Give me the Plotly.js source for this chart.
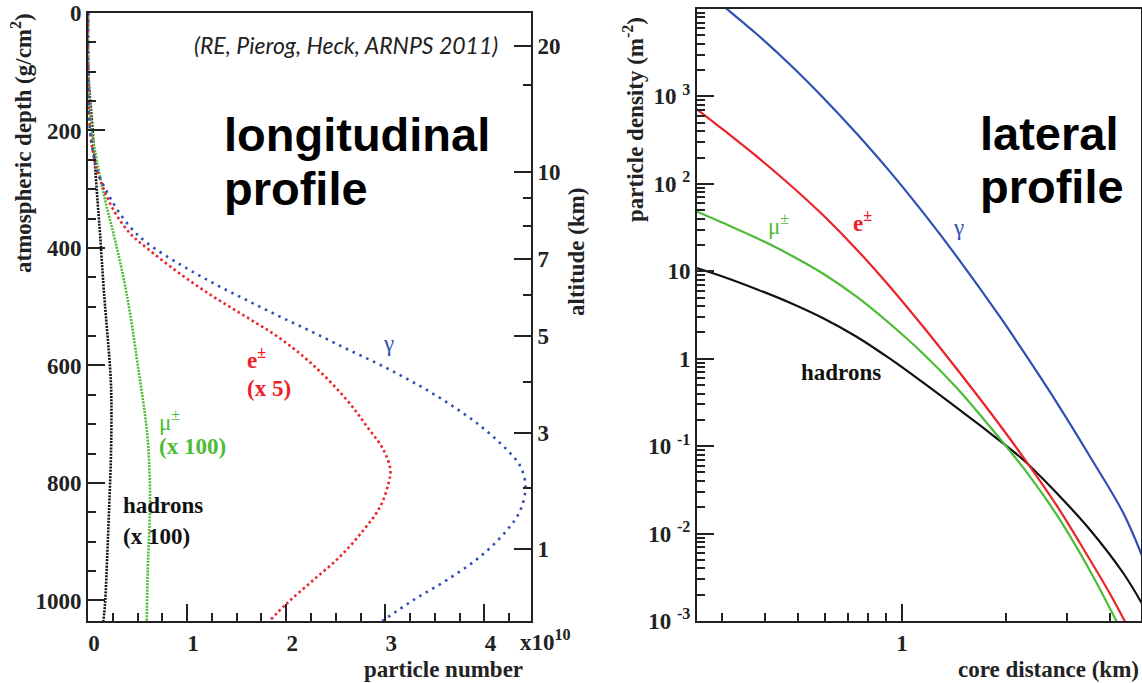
<!DOCTYPE html>
<html>
<head>
<meta charset="utf-8">
<script src="https://cdn.plot.ly/plotly-3.0.1.min.js"></script>
<style>html,body{margin:0;padding:0;background:#fff;}#chart{width:1142px;height:683px;}</style>
</head>
<body>
<div id="chart"></div>
<script>
// ---------- Longitudinal profile (particle number in units of 1e10, depth in g/cm^2) ----------
const gammaDepth = [0, 100, 200, 245, 273, 324, 364, 391, 428, 460, 489, 517, 544, 572, 599, 629, 663, 703, 744, 772, 806, 846, 880, 925, 965, 999, 1035];
const gammaN     = [0, 0.002, 0.02, 0.06, 0.104, 0.256, 0.424, 0.593, 0.929, 1.266, 1.603, 1.939, 2.276, 2.613, 2.949, 3.286, 3.623, 3.96, 4.229, 4.364, 4.414, 4.364, 4.229, 3.96, 3.623, 3.286, 2.97];
const electronDepth = [0, 100, 200, 245, 273, 335, 375, 400, 444, 483, 518, 554, 600, 659, 704, 744, 778, 800, 840, 880, 925, 965, 1005, 1035];
const electronN     = [0, 0.002, 0.02, 0.06, 0.1, 0.256, 0.424, 0.593, 0.929, 1.266, 1.603, 1.939, 2.276, 2.613, 2.815, 2.983, 3.051, 3.033, 2.949, 2.781, 2.545, 2.276, 2.007, 1.83];
const muonDepth = [0, 100, 200, 250, 318, 375, 440, 511, 608, 664, 721, 778, 835, 891, 948, 1035];
const muonN     = [0, 0.003, 0.037, 0.088, 0.172, 0.256, 0.345, 0.424, 0.51, 0.559, 0.6, 0.62, 0.626, 0.616, 0.603, 0.593];
const hadronDepth = [0, 100, 200, 301, 375, 477, 613, 664, 750, 835, 920, 1005, 1035];
const hadronN     = [0, 0.003, 0.047, 0.088, 0.121, 0.162, 0.226, 0.236, 0.232, 0.215, 0.195, 0.172, 0.155];

// altitude axis: depth (g/cm^2) at given altitudes (km)
const altMajorDepth = [56, 271, 419, 550, 715, 913];
const altMajorText  = ['20', '10', '7', '5', '3', '1'];
const altMinorDepth = [123, 315, 362, 480, 628, 808];

const depthTicks = [0, 200, 400, 600, 800, 1000];
const numberTicks = [0, 1, 2, 3, 4];

// ---------- Lateral profile (core distance km, density m^-2) ----------
const gammaR   = [0.300, 0.3126, 0.3793, 0.4735, 0.5913, 0.739, 0.923, 1.1527, 1.4405, 1.9454, 2.2467, 2.8081, 3.5075, 4.3787, 4.953];
const gammaRho = [11200, 9820, 5176, 2323, 968, 376.7, 138, 46.8, 14.8, 2.83, 1.218, 0.3164, 0.0761, 0.01732, 0.00573];
const elecR    = [0.2541, 0.3034, 0.3793, 0.4735, 0.5913, 0.739, 0.923, 1.1527, 1.4405, 1.800, 2.2467, 2.8081, 3.5075, 4.009, 4.43];
const elecRho  = [718, 416, 206, 97.8, 43.7, 17.8, 6.66, 2.32, 0.768, 0.2457, 0.0751, 0.0210, 0.00502, 0.00205, 0.000989];
const muonR    = [0.2541, 0.3034, 0.3793, 0.4735, 0.5913, 0.739, 0.923, 1.1527, 1.4405, 1.800, 2.2467, 2.8081, 3.5075, 4.191];
const muonRho  = [48.4, 35.7, 24.0, 15.47, 9.38, 5.12, 2.51, 1.141, 0.466, 0.1668, 0.0567, 0.01643, 0.00376, 0.000989];
const hadR     = [0.2541, 0.3034, 0.3793, 0.4735, 0.5913, 0.739, 0.923, 1.1527, 1.4405, 1.800, 2.2467, 2.8081, 3.5075, 4.3787, 4.953];
const hadRho   = [10.9, 8.67, 6.24, 4.37, 2.905, 1.785, 1.0, 0.5315, 0.2752, 0.1413, 0.0699, 0.0291, 0.01107, 0.00354, 0.001606];

const densTicks = [0.001, 0.01, 0.1, 1, 10, 100, 1000];
const densText  = ['10 <sup>-3</sup>', '10 <sup>-2</sup>', '10 <sup>-1</sup>', '1', '10', '10 <sup>2</sup>', '10 <sup>3</sup>'];
const distTicks = [1];
const distText  = ['1'];
const distMinor = [0.3, 0.4, 0.5, 0.6, 0.7, 0.8, 0.9, 2, 3, 4];
const densMinor = [];
[0.001, 0.01, 0.1, 1, 10, 100, 1000].forEach(d => { for (let k = 2; k <= 9; k++) densMinor.push(d * k); });

// ---------- styling ----------
const BLUE = '#2f4fb5', RED = '#ec2227', GREEN = '#4cbb35', BLACK = '#111111';
const W = 1142, H = 683;
const px = x => x / W, py = y => 1 - y / H;
const FS = 23;
const serifB = {family: 'Liberation Serif, serif', size: FS, color: '#222', weight: 'bold'};

function dotted(x, y, color, dash) {
  return {x, y, type: 'scatter', mode: 'lines', xaxis: 'x', yaxis: 'y',
    line: {color, width: 2.6, dash, shape: 'spline', smoothing: 1}, hoverinfo: 'skip', showlegend: false};
}
function solid(x, y, color) {
  return {x, y, type: 'scatter', mode: 'lines', xaxis: 'x3', yaxis: 'y3',
    line: {color, width: 2.2, shape: 'spline', smoothing: 1}, hoverinfo: 'skip', showlegend: false};
}

const traces = [
  dotted(hadronN, hadronDepth, BLACK, '2px,1.2px'),
  dotted(muonN, muonDepth, GREEN, '2px,1.2px'),
  dotted(electronN, electronDepth, RED, '2.5px,3px'),
  dotted(gammaN, gammaDepth, BLUE, '2.5px,5px'),
  solid(hadR, hadRho, BLACK),
  solid(muonR, muonRho, GREEN),
  solid(elecR, elecRho, RED),
  solid(gammaR, gammaRho, BLUE),
  {x: [null], y: [null], xaxis: 'x', yaxis: 'y2', type: 'scatter', mode: 'lines', showlegend: false, hoverinfo: 'skip'}
];

const lineStyle = {showline: true, linecolor: '#222', linewidth: 2, showgrid: false, zeroline: false, ticks: 'inside', tickcolor: '#222', tickwidth: 2};
const minorStyle = {ticklen: 8, ticks: 'inside', tickcolor: '#222', tickwidth: 2};

const layout = {
  width: W, height: H,
  margin: {l: 0, r: 0, t: 0, b: 0},
  paper_bgcolor: '#fff', plot_bgcolor: '#fff',
  showlegend: false,
  xaxis: Object.assign({}, lineStyle, {
    domain: [px(88), px(531)], range: [0, 4.47], anchor: 'y',
    tickvals: numberTicks, ticklen: 17, mirror: true,
    minor: Object.assign({dtick: 0.25, tick0: 0}, minorStyle),
    tickfont: serifB, ticklabelshift: 6
  }),
  yaxis: Object.assign({}, lineStyle, {
    domain: [py(621), py(13)], range: [1035, 0], anchor: 'x',
    tickvals: depthTicks, ticklen: 17,
    minor: Object.assign({dtick: 50, tick0: 0}, minorStyle),
    tickfont: serifB
  }),
  yaxis2: Object.assign({}, lineStyle, {
    overlaying: 'y', side: 'right', anchor: 'x', range: [1035, 0],
    tickvals: altMajorDepth, ticktext: altMajorText, ticklen: 17,
    minor: Object.assign({tickvals: altMinorDepth}, minorStyle),
    tickfont: serifB
  }),
  xaxis3: Object.assign({}, lineStyle, {
    domain: [px(697), px(1141)], type: 'log', range: [-0.594, 0.693], anchor: 'y3',
    tickvals: distTicks, ticktext: distText, ticklen: 17, mirror: true,
    minor: Object.assign({tickvals: distMinor}, minorStyle),
    tickfont: serifB
  }),
  yaxis3: Object.assign({}, lineStyle, {
    domain: [py(621), py(9)], type: 'log', range: [-3, 4], anchor: 'x3',
    tickvals: densTicks, ticktext: densText, ticklen: 17, mirror: true,
    minor: Object.assign({tickvals: densMinor}, minorStyle),
    tickfont: serifB
  }),
  annotations: []
};

function ann(text, x, y, opts) {
  layout.annotations.push(Object.assign({
    text, x: px(x), y: py(y), xref: 'paper', yref: 'paper', showarrow: false,
    xanchor: 'center', yanchor: 'middle', font: serifB
  }, opts || {}));
}
const big = {family: 'Liberation Sans, Arial, sans-serif', size: 47, color: '#000', weight: 'bold'};
ann('longitudinal', 222, 135, {xanchor: 'left', font: big});
ann('profile', 222, 188, {xanchor: 'left', font: big});
ann('lateral', 978, 133, {xanchor: 'left', font: big});
ann('profile', 978, 186, {xanchor: 'left', font: big});
ann('<i>(RE, Pierog, Heck, ARNPS 2011)</i>', 500, 45, {xanchor: 'right',
  font: {family: 'Lato, Open Sans, sans-serif', size: 23, color: '#222'}});

// axis titles
ann('atmospheric depth (g/cm<sup>2</sup>)', 22, 143, {textangle: -90});
ann('altitude (km)', 576, 252, {textangle: -90});
ann('particle number', 443, 683, {yanchor: 'bottom', borderpad: 0});
ann('x10<sup>10</sup>', 545, 640);
ann('particle density (m<sup>-2</sup>)', 633, 120, {textangle: -90});
ann('core distance (km)', 1048, 683, {yanchor: 'bottom', borderpad: 0});

// curve labels, left
const lbl = (c, w) => ({family: 'Liberation Serif, serif', size: FS, color: c, weight: w});
ann('γ', 388, 343, {font: lbl(BLUE, 'normal')});
ann('e<sup>±</sup>', 245, 358, {xanchor: 'left', font: lbl(RED, 'bold')});
ann('(x 5)', 245, 388, {xanchor: 'left', font: lbl(RED, 'bold')});
ann('μ<sup>±</sup>', 157, 420, {xanchor: 'left', font: lbl(GREEN, 'normal')});
ann('(x 100)', 157, 446, {xanchor: 'left', font: lbl(GREEN, 'bold')});
ann('hadrons', 121, 505, {xanchor: 'left', font: lbl(BLACK, 'bold')});
ann('(x 100)', 121, 536, {xanchor: 'left', font: lbl(BLACK, 'bold')});
// curve labels, right
ann('μ<sup>±</sup>', 766, 224, {xanchor: 'left', font: lbl(GREEN, 'normal')});
ann('e<sup>±</sup>', 851, 222, {xanchor: 'left', font: lbl(RED, 'bold')});
ann('γ', 958, 227, {font: lbl(BLUE, 'normal')});
ann('hadrons', 799, 372, {xanchor: 'left', font: lbl(BLACK, 'bold')});

Plotly.newPlot('chart', traces, layout, {staticPlot: true, displayModeBar: false});
</script>
</body>
</html>
